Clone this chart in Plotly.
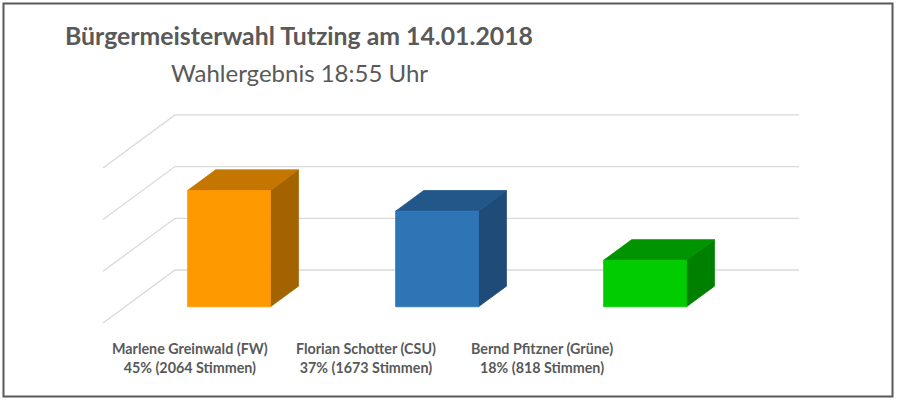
import plotly.graph_objects as go

# ---------------- data ----------------
candidates = ["Marlene Greinwald (FW)", "Florian Schotter (CSU)", "Bernd Pfitzner (Grüne)"]
percent = [45, 37, 18]
votes = [2064, 1673, 818]
value_ticks = [0, 20, 40, 60]

front_colors = ["#FF9900", "#2E75B6", "#00CC00"]
top_colors = ["#C47600", "#22578A", "#009400"]
side_colors = ["#A36300", "#1F4B78", "#008000"]

# ---------------- geometry (oblique projection) ----------------
W, H = 899, 400
X0_PX, PX_PER_CAT = 279.0, 208.0      # back-wall centre of first category
Y0_PX, PX_PER_PCT = 270.0, 2.585      # back-wall zero line
DEPTH_PX_X, DEPTH_PX_Y = -72.0, 53.0  # full floor depth offset in pixels
DX = DEPTH_PX_X / PX_PER_CAT          # x data units per full depth
DY = -DEPTH_PX_Y / PX_PER_PCT         # y data units per full depth
BAR_FRONT, BAR_BACK, BAR_HALF = 0.694, 0.305, 0.199

x_range = [(0 - X0_PX) / PX_PER_CAT, (W - X0_PX) / PX_PER_CAT]
y_range = [(Y0_PX - H) / PX_PER_PCT, (Y0_PX - 0) / PX_PER_PCT]


def proj(u, v, d):
    return u + DX * d, v + DY * d


def px2paper(px, py):
    return px / W, (H - py) / H


fig = go.Figure()
grid_col = "#D9D9D9"
n = len(candidates)

# back wall & side wall gridlines
for v in value_ticks:
    xs, ys = [], []
    for (u, d) in [(n - 0.5, 0), (-0.5, 0), (-0.5, 1)]:
        x, y = proj(u, v, d)
        xs.append(x)
        ys.append(y)
    fig.add_trace(go.Scatter(x=xs, y=ys, mode="lines",
                             line=dict(color=grid_col, width=1.3),
                             hoverinfo="skip", showlegend=False))

# bars
for i, val in enumerate(percent):
    c = i
    a, b = c - BAR_HALF, c + BAR_HALF
    faces = [
        ([(b, 0, BAR_FRONT), (b, 0, BAR_BACK), (b, val, BAR_BACK), (b, val, BAR_FRONT)], side_colors[i]),
        ([(a, val, BAR_FRONT), (a, val, BAR_BACK), (b, val, BAR_BACK), (b, val, BAR_FRONT)], top_colors[i]),
        ([(a, 0, BAR_FRONT), (b, 0, BAR_FRONT), (b, val, BAR_FRONT), (a, val, BAR_FRONT)], front_colors[i]),
    ]
    for pts, col in faces:
        xs, ys = zip(*[proj(*p) for p in pts])
        xs = list(xs) + [xs[0]]
        ys = list(ys) + [ys[0]]
        fig.add_trace(go.Scatter(x=xs, y=ys, mode="lines", fill="toself",
                                 fillcolor=col, line=dict(color=col, width=0.8),
                                 hoverinfo="skip", showlegend=False))

# category labels
LABEL_X0, LABEL_STEP = (190 - X0_PX) / PX_PER_CAT, 176 / PX_PER_CAT
label_y = (Y0_PX - 358) / PX_PER_PCT
for i, name in enumerate(candidates):
    fig.add_annotation(x=LABEL_X0 + LABEL_STEP * i, y=label_y, xref="x", yref="y",
                       xanchor="center", yanchor="middle",
                       text=f"<b>{name}<br>{percent[i]}% ({votes[i]} Stimmen)</b>",
                       showarrow=False, align="center",
                       font=dict(family="Lato", size=14.3, color="#595959"))

# titles
tx, ty = px2paper(299, 36)
fig.add_annotation(x=tx, y=ty, xref="paper", yref="paper", showarrow=False,
                   xanchor="center", yanchor="middle",
                   text="<b>Bürgermeisterwahl Tutzing am 14.01.2018</b>",
                   font=dict(family="Lato", size=24.8, color="#595959"))
sx, sy = px2paper(299, 72)
fig.add_annotation(x=sx, y=sy, xref="paper", yref="paper", showarrow=False,
                   xanchor="center", yanchor="middle",
                   text="Wahlergebnis 18:55 Uhr",
                   font=dict(family="Lato", size=24, color="#595959"))

# frame
x0, y0 = px2paper(3.5, 396.5)
x1, y1 = px2paper(892.5, 3.5)
fig.add_shape(type="rect", xref="paper", yref="paper", x0=x0, y0=y0, x1=x1, y1=y1,
              line=dict(color="#595959", width=2), layer="above")

fig.update_xaxes(range=x_range, visible=False, fixedrange=True)
fig.update_yaxes(range=y_range, visible=False, fixedrange=True)
fig.update_layout(width=W, height=H, margin=dict(l=0, r=0, t=0, b=0, pad=0),
                  paper_bgcolor="white", plot_bgcolor="white",
                  showlegend=False)

fig.write_html("out.html", config={"displayModeBar": False},
               post_script="document.body.style.margin='0';document.body.style.overflow='hidden';")
